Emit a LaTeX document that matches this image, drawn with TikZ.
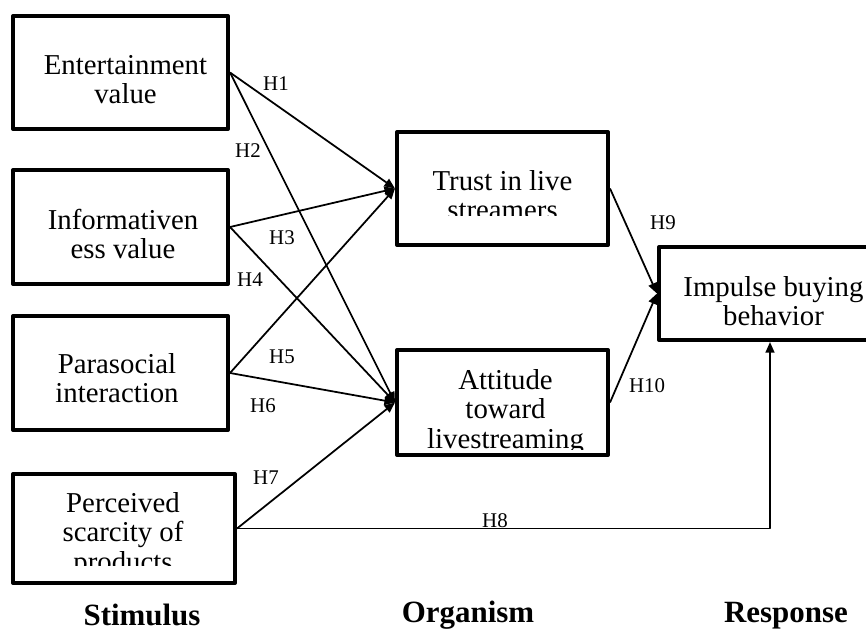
\documentclass[tikz,border=0pt]{standalone}
\usepackage{fontspec}
\setmainfont{Liberation Serif}
\usetikzlibrary{arrows.meta}

\begin{document}
\begin{tikzpicture}[x=0.02cm,y=-0.02cm,line join=round,>={Triangle[length=6pt,width=5pt]}]
	%\draw[gray!50] (0,0) grid[step=50] (866,632);
	\def\px{0.02cm}
	\useasboundingbox (0,0) rectangle (866,632);
	\tikzset{
		box/.style={draw,line width=2.3pt,inner sep=0pt},
		txt/.style={align=center,inner sep=0pt,font=\fontsize{16.4}{16.6}\selectfont},
		hyp/.style={inner sep=0pt,font=\fontsize{11.9}{12}\selectfont},
		stage/.style={anchor=base,inner sep=0pt,font=\fontsize{17.6}{18}\selectfont\bfseries},
		link/.style={->,line width=1pt}
	}
	
	% boxes
	\node[box,minimum width=215*\px,minimum height=113*\px] (ent) at (120.5,72.5) {};
	\node[box,minimum width=215*\px,minimum height=114*\px] (info) at (120.5,227) {};
	\node[box,minimum width=215*\px,minimum height=114*\px] (para) at (120.5,373) {};
	\node[box,minimum width=222*\px,minimum height=109*\px] (perc) at (124,528.5) {};
	\node[box,minimum width=211*\px,minimum height=113*\px] (trust) at (502.5,188.5) {};
	\node[box,minimum width=211*\px,minimum height=105*\px] (att) at (502.5,402.5) {};
	\node[box,minimum width=222*\px,minimum height=93*\px] (imp) at (770,293.5) {};
	
	% texts
	\node[txt] (enttxt) at (125.5,79.5) {Entertainment\\value};
	\node[txt] (infotxt) at (123,234) {Informativen\\ess value};
	\node[txt] (paratxt) at (117,378) {Parasocial\\interaction};
	\node[txt] (imptxt) at (773.5,301) {Impulse buying\\behavior};
	\begin{scope}
		\clip (20,480) rectangle (230,565);
		\node[txt] (perctxt) at (123,535) {Perceived\\scarcity of\\products};
	\end{scope}
	\begin{scope}
		\clip (400,135) rectangle (605,215);
		\node[txt] (trusttxt) at (502.5,195.5) {Trust in live\\streamers};
	\end{scope}
	\begin{scope}
		\clip (400,352) rectangle (605,449);
		\node[txt] (atttxt) at (505.5,412) {Attitude\\toward\\livestreaming};
	\end{scope}
	
	% connectors
	\draw[link] (ent.east) -- (trust.west);
	\draw[link] (ent.east) -- (att.west);
	\draw[link] (info.east) -- (trust.west);
	\draw[link] (info.east) -- (att.west);
	\draw[link] (para.east) -- (trust.west);
	\draw[link] (para.east) -- (att.west);
	\draw[link] (perc.east) -- (att.west);
	\draw[link] (perc.east) -| (imp.south);
	\draw[link] (trust.east) -- (imp.west);
	\draw[link] (att.east) -- (imp.west);
	
	\node[hyp] (h1) at (276,84) {H1};
	\node[hyp] (h2) at (248,151) {H2};
	\node[hyp] (h3) at (282,238) {H3};
	\node[hyp] (h4) at (250,280) {H4};
	\node[hyp] (h5) at (282,357) {H5};
	\node[hyp] (h6) at (263,406) {H6};
	\node[hyp] (h7) at (266,478) {H7};
	\node[hyp] (h8) at (495,521) {H8};
	\node[hyp] (h9) at (663,223) {H9};
	\node[hyp] (h10) at (647,386) {H10};
	
	\node[stage] (stim) at (142,625) {Stimulus};
	\node[stage] (org) at (468,622) {Organism};
	\node[stage] (resp) at (786,622) {Response};
\end{tikzpicture}
\end{document}
